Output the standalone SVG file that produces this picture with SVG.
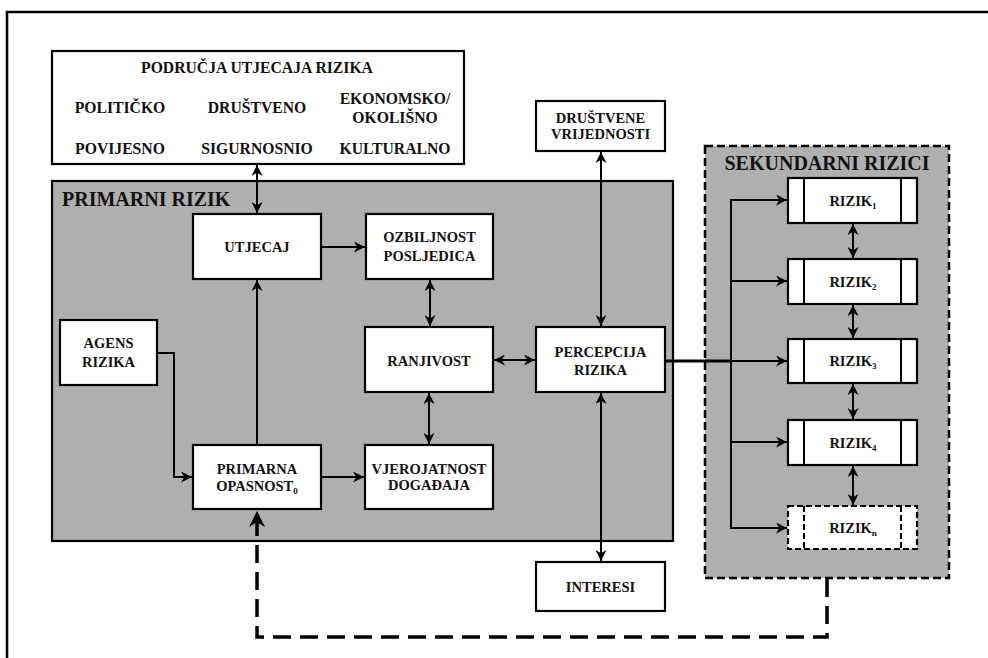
<svg xmlns="http://www.w3.org/2000/svg" width="988" height="658" viewBox="0 0 988 658" font-family="'Liberation Serif', 'DejaVu Serif', serif">
<defs>
<marker id="ah" viewBox="0 0 10 10" refX="10" refY="5" markerWidth="11" markerHeight="11" markerUnits="userSpaceOnUse" orient="auto-start-reverse">
<path d="M0,0 L10,5 L0,10 L3,5 z" fill="#000"/>
</marker>
<marker id="ahb" viewBox="0 0 10 10" refX="10" refY="5" markerWidth="16" markerHeight="16" markerUnits="userSpaceOnUse" orient="auto-start-reverse">
<path d="M0,0 L10,5 L0,10 L3,5 z" fill="#000"/>
</marker>
<style>
.box{fill:#fff;stroke:#000;stroke-width:2.2}
text{font-family:'Liberation Serif','DejaVu Serif',serif;font-weight:bold;fill:#111}
.t{font-size:14.5px;text-anchor:middle}
.tb{font-size:15.7px;text-anchor:middle}
.title{font-size:20px}
.sub{font-size:9px}
.c{fill:none;stroke:#000;stroke-width:2}
.da{marker-start:url(#ah);marker-end:url(#ah)}
.sa{marker-end:url(#ah)}
</style>
</defs>
<rect width="988" height="658" fill="#fff"/>
<path d="M7,658 V12 H988" fill="none" stroke="#000" stroke-width="2.6"/>

<g id="primarni-rizik">
<rect x="52" y="181" width="621" height="360" fill="#afafaf" stroke="#000" stroke-width="2.2"/>
<text class="title" x="62" y="206">PRIMARNI RIZIK</text>
</g>

<g id="sekundarni-rizici">
<rect x="705" y="146" width="244" height="432" fill="#afafaf" stroke="#000" stroke-width="2.5" stroke-dasharray="8,4"/>
<text class="title" x="827" y="170" text-anchor="middle">SEKUNDARNI RIZICI</text>
</g>

<g id="podrucja">
<rect class="box" x="52" y="51" width="412" height="113"/>
<text class="tb" x="257" y="73">PODRUČJA UTJECAJA RIZIKA</text>
<text class="tb" x="120" y="113">POLITIČKO</text>
<text class="tb" x="257" y="113">DRUŠTVENO</text>
<text class="tb" x="395" y="104">EKONOMSKO/</text>
<text class="tb" x="395" y="123">OKOLIŠNO</text>
<text class="tb" x="120" y="154">POVIJESNO</text>
<text class="tb" x="257" y="154">SIGURNOSNIO</text>
<text class="tb" x="395" y="154">KULTURALNO</text>
</g>

<g id="utjecaj">
<rect class="box" x="193" y="214" width="128" height="65"/>
<text class="t" x="257" y="252">UTJECAJ</text>
</g>
<g id="ozbiljnost">
<rect class="box" x="366" y="214" width="127" height="65"/>
<text class="t" x="429.5" y="242">OZBILJNOST</text>
<text class="t" x="429.5" y="261">POSLJEDICA</text>
</g>
<g id="agens">
<rect class="box" x="60" y="320" width="97" height="65"/>
<text class="t" x="108.5" y="348">AGENS</text>
<text class="t" x="108.5" y="367">RIZIKA</text>
</g>
<g id="ranjivost">
<rect class="box" x="365" y="327" width="128" height="65"/>
<text class="t" x="429" y="366">RANJIVOST</text>
</g>
<g id="primarna-opasnost">
<rect class="box" x="193" y="445" width="128" height="64"/>
<text class="t" x="257" y="474">PRIMARNA</text>
<text class="t" x="257" y="491">OPASNOST<tspan class="sub" dy="3">0</tspan></text>
</g>
<g id="vjerojatnost">
<rect class="box" x="365" y="445" width="128" height="64"/>
<text class="t" x="429" y="474">VJEROJATNOST</text>
<text class="t" x="429" y="490">DOGAĐAJA</text>
</g>
<g id="drustvene-vrijednosti">
<rect class="box" x="536" y="101" width="129" height="50"/>
<text class="t" x="600.5" y="123">DRUŠTVENE</text>
<text class="t" x="600.5" y="139">VRIJEDNOSTI</text>
</g>
<g id="percepcija">
<rect class="box" x="536" y="327" width="129" height="65"/>
<text class="t" x="600.5" y="357">PERCEPCIJA</text>
<text class="t" x="600.5" y="375">RIZIKA</text>
</g>
<g id="interesi">
<rect class="box" x="536" y="562" width="129" height="49"/>
<text class="t" x="600.5" y="592">INTERESI</text>
</g>

<g id="rizik1">
<rect class="box" x="788" y="178" width="129" height="45"/>
<path d="M804,178 V223 M901,178 V223" stroke="#000" stroke-width="2"/>
<text class="t" x="853" y="206">RIZIK<tspan class="sub" dy="3">1</tspan></text>
</g>
<g id="rizik2">
<rect class="box" x="788" y="259" width="129" height="45"/>
<path d="M804,259 V304 M901,259 V304" stroke="#000" stroke-width="2"/>
<text class="t" x="853" y="287">RIZIK<tspan class="sub" dy="3">2</tspan></text>
</g>
<g id="rizik3">
<rect class="box" x="788" y="339" width="129" height="44"/>
<path d="M804,339 V383 M901,339 V383" stroke="#000" stroke-width="2"/>
<text class="t" x="853" y="366">RIZIK<tspan class="sub" dy="3">3</tspan></text>
</g>
<g id="rizik4">
<rect class="box" x="788" y="420" width="129" height="45"/>
<path d="M804,420 V465 M901,420 V465" stroke="#000" stroke-width="2"/>
<text class="t" x="853" y="448">RIZIK<tspan class="sub" dy="3">4</tspan></text>
</g>
<g id="rizikn">
<rect x="788" y="506" width="129" height="43" fill="#fff" stroke="#000" stroke-width="2.2" stroke-dasharray="6,3"/>
<path d="M804,506 V549 M901,506 V549" stroke="#000" stroke-width="2" stroke-dasharray="6,3"/>
<text class="t" x="853" y="533">RIZIK<tspan class="sub" dy="3">n</tspan></text>
</g>

<g id="connectors">
<path class="c da" d="M257,165 V213"/>
<path class="c sa" d="M321,247 H365"/>
<path class="c da" d="M430,280 V326"/>
<path class="c da" d="M429,393 V444"/>
<path class="c sa" d="M321,477 H364"/>
<path class="c sa" d="M257,445 V280"/>
<path class="c sa" d="M157,353 H174 V477 H192"/>
<path class="c da" d="M494,360 H535"/>
<path class="c da" d="M601,152 V326"/>
<path class="c da" d="M601,393 V561"/>
<path d="M665,361 H732" fill="none" stroke="#000" stroke-width="3.2"/>
<path class="c" d="M731,199 V529"/>
<path class="c sa" d="M730,200 H787"/>
<path class="c sa" d="M730,281 H787"/>
<path class="c sa" d="M731,361 H787"/>
<path class="c sa" d="M730,442 H787"/>
<path class="c sa" d="M730,528 H787"/>
<path class="c da" d="M853,224 V258"/>
<path class="c da" d="M853,305 V338"/>
<path class="c da" d="M853,384 V419"/>
<path class="c da" d="M853,466 V505"/>
<path d="M827,579 V637 H257 V511" fill="none" stroke="#000" stroke-width="3.5" stroke-dasharray="18,9" marker-end="url(#ahb)"/>
</g>
</svg>
